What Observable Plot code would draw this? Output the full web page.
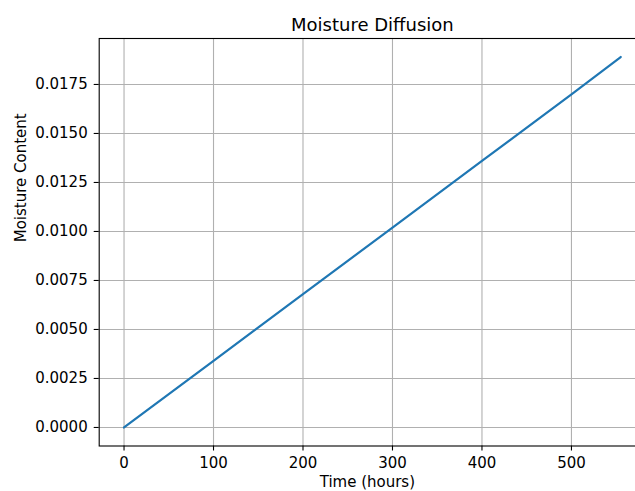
<!DOCTYPE html>
<html>
<head>
<meta charset="utf-8">
<script src="https://cdn.jsdelivr.net/npm/d3@7"></script>
<script src="https://cdn.jsdelivr.net/npm/@observablehq/plot@0.6"></script>
<style>
  html, body { margin: 0; padding: 0; background: white; overflow: hidden; }
  svg { overflow: hidden; }
</style>
</head>
<body>
<div id="chart"></div>
<script>
const title = "Moisture Diffusion";
const xLabel = "Time (hours)";
const yLabel = "Moisture Content";
const times = [0, 100, 200, 300, 400, 500, 555];
const moisture = [0, 0.0034, 0.0068, 0.0102, 0.0136, 0.0170, 0.0189];
const xTicks = [0, 100, 200, 300, 400, 500];
const yTicks = [0, 0.0025, 0.005, 0.0075, 0.01, 0.0125, 0.015, 0.0175];

const data = times.map((t, i) => ({t, m: moisture[i]}));

const xPad = (d3.max(times) - d3.min(times)) * 0.05;
const yPad = (d3.max(moisture) - d3.min(moisture)) * 0.05;

const font = "DejaVu Sans, sans-serif";

const plot = Plot.plot({
  width: 635,
  height: 491,
  marginLeft: 98.7,
  marginRight: -10,
  marginTop: 38,
  marginBottom: 45.5,
  style: {fontFamily: font, fontSize: "15px", color: "black", background: "white"},
  x: {domain: [d3.min(times) - xPad, d3.max(times) + xPad]},
  y: {domain: [d3.min(moisture) - yPad, d3.max(moisture) + yPad]},
  marks: [
    Plot.gridX(xTicks, {stroke: "#b0b0b0", strokeOpacity: 1, strokeWidth: 1.1}),
    Plot.gridY(yTicks, {stroke: "#b0b0b0", strokeOpacity: 1, strokeWidth: 1.1}),
    Plot.line(data, {x: "t", y: "m", stroke: "#1f77b4", strokeWidth: 2.2}),
    Plot.axisX(xTicks, {tickSize: 5, tickPadding: 6, label: null, fontSize: 15, stroke: "black", strokeWidth: 1.1}),
    Plot.axisY(yTicks, {tickSize: 5, tickPadding: 6.5, label: null, fontSize: 15, tickFormat: d3.format(".4f"), stroke: "black", strokeWidth: 1.1}),
    Plot.frame({stroke: "black", strokeWidth: 1.1}),
    Plot.text([title], {frameAnchor: "top", lineAnchor: "bottom", dy: -8, fontSize: 18, fill: "black"}),
    Plot.text([xLabel], {frameAnchor: "bottom", lineAnchor: "top", dy: 30, fontSize: 15, fill: "black", dx: -5}),
    Plot.text([yLabel], {frameAnchor: "left", lineAnchor: "bottom", rotate: -90, dx: -73, fontSize: 15, fill: "black"})
  ]
});
document.getElementById("chart").appendChild(plot);
</script>
</body>
</html>
